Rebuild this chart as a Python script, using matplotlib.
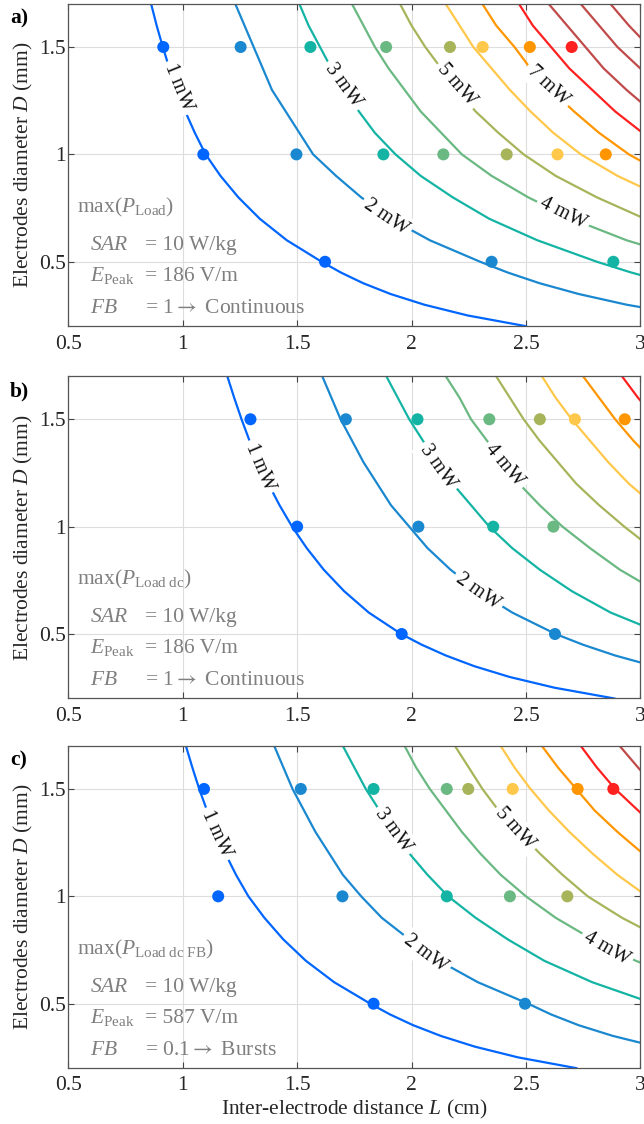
import matplotlib.pyplot as plt
import numpy as np

# Fuentes tipo Times
plt.rcParams['font.family'] = ['Liberation Serif', 'DejaVu Serif']
plt.rcParams['mathtext.fontset'] = 'custom'
plt.rcParams['mathtext.rm'] = 'Liberation Serif'
plt.rcParams['mathtext.it'] = 'Liberation Serif:italic'

# Colores de cada nivel (1 mW, 2 mW, ...)
colores = ['#0066ff', '#1a88d0', '#14b4a4', '#6ab882', '#a8b45a', '#ffc84a',
           '#ff9600', '#ff2020', '#c04a4a', '#c04a4a', '#c04a4a']

# Diametros D (mm) donde se leyeron las curvas
D_niveles = [1.7, 1.6, 1.5, 1.4, 1.3, 1.2, 1.1, 1.0, 0.9, 0.8, 0.7, 0.6,
             0.5, 0.45, 0.4, 0.35, 0.3, 0.25, 0.2]

# Panel a) distancia L (cm) de cada curva de nivel
curvas_a = [
    [0.862, 0.886, 0.913, 0.942, 0.975, 1.011, 1.053, 1.100, 1.165, 1.243,
     1.337, 1.455, 1.607, 1.691, 1.789, 1.908, 2.056, 2.245, 2.50],
    [1.23, 1.27, 1.31, 1.35, 1.39, 1.45, 1.51, 1.57, 1.67, 1.78, 1.91, 2.08,
     2.30, 2.42, 2.56, 2.73, 2.94, 3.21],
    [1.51, 1.55, 1.60, 1.65, 1.71, 1.77, 1.84, 1.93, 2.04, 2.18, 2.34, 2.55,
     2.81, 2.96, 3.13],
    [1.74, 1.79, 1.84, 1.90, 1.97, 2.04, 2.13, 2.22, 2.35, 2.51, 2.70, 2.94, 3.25],
    [1.95, 2.00, 2.06, 2.13, 2.20, 2.28, 2.38, 2.49, 2.63, 2.81, 3.02],
    [2.15, 2.21, 2.27, 2.35, 2.43, 2.52, 2.62, 2.74, 2.90, 3.10],
    [2.31, 2.37, 2.45, 2.52, 2.61, 2.71, 2.82, 2.95, 3.12],
    [2.47, 2.53, 2.61, 2.69, 2.79, 2.89, 3.01],
    [2.60, 2.68, 2.76, 2.84, 2.94, 3.05],
    [2.74, 2.82, 2.90, 3.00, 3.10],
    [2.87, 2.95, 3.04],
]
puntos_L_a = [0.915, 1.253, 1.558, 1.889, 2.168, 2.311, 2.517, 2.70,
              1.09, 1.497, 1.877, 2.139, 2.416, 2.638, 2.849,
              1.622, 2.35, 2.882]
puntos_D_a = [1.5] * 8 + [1.0] * 7 + [0.5] * 3
puntos_k_a = [1, 2, 3, 4, 5, 6, 7, 8, 1, 2, 3, 4, 5, 6, 7, 1, 2, 3]
etiquetas_a = [(1, 0.98, 1.31, -68), (2, 1.89, 0.709, -34), (3, 1.703, 1.322, -54),
               (4, 2.663, 0.726, -27), (5, 2.197, 1.322, -49), (7, 2.598, 1.322, -43)]

# Panel b)
curvas_b = [
    [1.195, 1.225, 1.257, 1.292, 1.331, 1.374, 1.423, 1.478, 1.542, 1.616,
     1.705, 1.813, 1.955, 2.045, 2.150, 2.275, 2.429, 2.625, 2.886],
    [1.61, 1.65, 1.69, 1.74, 1.79, 1.85, 1.91, 1.99, 2.07, 2.17, 2.29, 2.44,
     2.63, 2.75, 2.89, 3.06],
    [1.89, 1.94, 1.99, 2.05, 2.11, 2.18, 2.26, 2.34, 2.44, 2.56, 2.70, 2.87, 3.10],
    [2.15, 2.21, 2.26, 2.33, 2.40, 2.47, 2.56, 2.66, 2.78, 2.91, 3.07],
    [2.37, 2.43, 2.49, 2.56, 2.64, 2.72, 2.82, 2.93, 3.05],
    [2.57, 2.63, 2.70, 2.78, 2.86, 2.95, 3.06],
    [2.75, 2.82, 2.89, 2.97, 3.06],
    [2.92, 2.99, 3.07],
]
puntos_L_b = [1.296, 1.713, 2.026, 2.34, 2.561, 2.714, 2.932,
              1.50, 2.03, 2.357, 2.62,
              1.957, 2.627]
puntos_D_b = [1.5] * 7 + [1.0] * 4 + [0.5] * 2
puntos_k_b = [1, 2, 3, 4, 5, 6, 7, 1, 2, 3, 4, 1, 2]
etiquetas_b = [(1, 1.337, 1.278, -67), (3, 2.117, 1.278, -55), (4, 2.408, 1.286, -50),
               (2, 2.29, 0.697, -35)]

# Panel c)
curvas_c = [
    [1.014, 1.042, 1.072, 1.106, 1.144, 1.186, 1.233, 1.287, 1.357, 1.439,
     1.538, 1.662, 1.820, 1.906, 2.007, 2.128, 2.277, 2.466, 2.72],
    [1.40, 1.44, 1.48, 1.53, 1.58, 1.64, 1.70, 1.78, 1.87, 1.99, 2.12, 2.29,
     2.51, 2.61, 2.73, 2.88, 3.07],
    [1.70, 1.75, 1.80, 1.86, 1.92, 1.99, 2.07, 2.16, 2.28, 2.42, 2.58, 2.79, 3.06],
    [1.97, 2.02, 2.08, 2.15, 2.22, 2.30, 2.39, 2.50, 2.63, 2.79, 2.98, 3.22],
    [2.19, 2.25, 2.31, 2.38, 2.47, 2.56, 2.66, 2.77, 2.92, 3.10],
    [2.39, 2.45, 2.52, 2.60, 2.69, 2.79, 2.90, 3.03],
    [2.57, 2.64, 2.72, 2.80, 2.90, 3.01],
    [2.74, 2.81, 2.89, 2.99, 3.09],
    [2.91, 2.99, 3.07],
]
puntos_L_c = [1.093, 1.516, 1.834, 2.154, 2.248, 2.442, 2.726, 2.882,
              1.155, 1.698, 2.154, 2.43, 2.681,
              1.834, 2.496]
puntos_D_c = [1.5] * 8 + [1.0] * 5 + [0.5] * 2
puntos_k_c = [1, 2, 3, 4, 5, 6, 7, 8, 1, 2, 3, 4, 5, 1, 2]
etiquetas_c = [(1, 1.148, 1.29, -65.5), (3, 1.921, 1.306, -54), (5, 2.452, 1.314, -48),
               (2, 2.06, 0.733, -37.5), (4, 2.852, 0.756, -30)]

# Textos de cada panel
letras = ['a)', 'b)', 'c)']
subindices = [r'\rm Load', r'\rm Load\ dc', r'\rm Load\ dc\ FB']
E_pico = ['186', '186', '587']
FB_txt = ['1', '1', '0.1']
modo = ['Continuous', 'Continuous', 'Bursts']

paneles = [
    (curvas_a, puntos_L_a, puntos_D_a, puntos_k_a, etiquetas_a),
    (curvas_b, puntos_L_b, puntos_D_b, puntos_k_b, etiquetas_b),
    (curvas_c, puntos_L_c, puntos_D_c, puntos_k_c, etiquetas_c),
]

fig = plt.figure(figsize=(6.44, 11.24), dpi=100)
bases = [0.7098, 0.3786, 0.0497]
alto = 0.2866
gris = '#7f7f7f'
fs = 15.5

for i, (curvas, pL, pD, pk, etiq) in enumerate(paneles):
    ax = fig.add_axes([0.1061, bases[i], 0.8882, alto])

    # Curvas de nivel
    for k, Ls in enumerate(curvas):
        ax.plot(Ls, D_niveles[:len(Ls)], color=colores[k], lw=1.6, zorder=2)

    # Etiquetas sobre las curvas
    for (k, L, D, ang) in etiq:
        ax.text(L, D, f'{k} mW', rotation=ang, rotation_mode='anchor',
                ha='center', va='center', fontsize=14.5, color='#111111',
                bbox=dict(boxstyle='square,pad=0.18', fc='white', ec='none'),
                zorder=3)

    # Puntos
    ax.scatter(pL, pD, s=75, c=[colores[k - 1] for k in pk],
               edgecolors='none', zorder=4)

    ax.set_xlim(0.5, 3)
    ax.set_ylim(0.2, 1.7)
    ax.set_xticks([0.5, 1, 1.5, 2, 2.5, 3])
    ax.set_xticklabels(['0.5', '1', '1.5', '2', '2.5', '3'])
    ax.set_yticks([0.5, 1, 1.5])
    ax.set_yticklabels(['0.5', '1', '1.5'])
    ax.grid(True, color='#dddddd', lw=0.8)
    ax.set_axisbelow(True)
    ax.tick_params(direction='in', top=True, right=True, length=4,
                   width=0.8, color='#444444', labelsize=fs, labelcolor='#262626')
    ax.tick_params(axis='x', pad=6)
    ax.tick_params(axis='y', pad=2)
    for s in ax.spines.values():
        s.set_color('#555555')
        s.set_linewidth(0.9)

    ax.set_ylabel('Electrodes diameter $D$ (mm)', fontsize=fs, color='#262626',
                  labelpad=3)

    # Cuadro de texto gris
    ax.text(0.0147, 0.353, 'max($P_{' + subindices[i] + '}$)', transform=ax.transAxes,
            fontsize=fs, color=gris, va='baseline')
    ax.text(0.038, 0.236, '$SAR$', transform=ax.transAxes, fontsize=fs,
            color=gris, va='baseline')
    ax.text(0.134, 0.236, '= 10 W/kg', transform=ax.transAxes, fontsize=fs,
            color=gris, va='baseline')
    ax.text(0.038, 0.140, r'$E_{\rm Peak}$', transform=ax.transAxes, fontsize=fs,
            color=gris, va='baseline')
    ax.text(0.134, 0.140, '= ' + E_pico[i] + ' V/m', transform=ax.transAxes,
            fontsize=fs, color=gris, va='baseline')
    ax.text(0.038, 0.041, '$FB$', transform=ax.transAxes, fontsize=fs,
            color=gris, va='baseline')
    ax.text(0.134, 0.041, '= ' + FB_txt[i] + r'$\rightarrow$ ' + modo[i],
            transform=ax.transAxes, fontsize=fs, color=gris, va='baseline',
            math_fontfamily='stix')

    # Letra del panel
    fig.text(10 / 644, bases[i] + alto - 0.0175, letras[i],
             fontsize=fs, fontweight='bold', va='baseline')

    if i == 2:
        ax.set_xlabel('Inter-electrode distance $L$ (cm)', fontsize=fs,
                      color='#262626', labelpad=2)

fig.savefig('out.png', dpi=100)
